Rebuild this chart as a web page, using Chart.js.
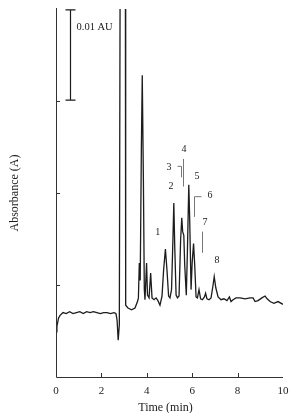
<!DOCTYPE html>
<html>
<head>
<meta charset="utf-8">
<script src="https://cdn.jsdelivr.net/npm/chart.js@4"></script>
<style>
  html,body{margin:0;padding:0;background:#fff;}
  canvas{display:block;}
</style>
</head>
<body>
<canvas id="c" width="290" height="413"></canvas>
<script>
// Chromatogram — absorbance vs time, drawn as a linear-x line chart.
const INK = "#1c1c1c", AXIS = "#333", LEAD = "#777";
const SERIF = "'Liberation Serif', 'DejaVu Serif', serif";

// time (min)
const times = [
  0, 0.04, 0.11, 0.18, 0.31, 0.45, 0.6, 0.75, 0.9, 1.05,
  1.2, 1.35, 1.5, 1.65, 1.8, 1.95, 2.1, 2.25, 2.4, 2.55,
  2.64, 2.69, 2.74, 2.79, 2.84, 3.05, 3.07, 3.17, 3.33, 3.48,
  3.59, 3.63, 3.67, 3.71, 3.76, 3.80, 3.85, 3.89, 3.92, 3.99,
  4.03, 4.10, 4.17, 4.23, 4.32, 4.41, 4.49, 4.58, 4.67, 4.74,
  4.82, 4.89, 4.96, 5.02, 5.09, 5.15, 5.19, 5.23, 5.29, 5.35,
  5.42, 5.49, 5.54, 5.58, 5.63, 5.67, 5.74, 5.79, 5.85, 5.89,
  5.95, 6.00, 6.06, 6.11, 6.17, 6.23, 6.30, 6.37, 6.45, 6.54,
  6.59, 6.65, 6.74, 6.83, 6.92, 6.97, 7.04, 7.14, 7.27, 7.40,
  7.53, 7.64, 7.71, 7.80, 7.93, 8.11, 8.33, 8.55, 8.68, 8.77,
  8.90, 9.07, 9.21, 9.30, 9.43, 9.60, 9.78, 10.0
];
// absorbance (AU)
const absorb = [
  0.0049, 0.0055, 0.0064, 0.0067, 0.0070, 0.0069, 0.0071, 0.0069, 0.0070, 0.0071,
  0.0069, 0.0071, 0.0070, 0.0071, 0.0070, 0.0069, 0.0070, 0.0070, 0.0069, 0.0070,
  0.0069, 0.0062, 0.0040, 0.0057, 0.0600, 0.0600, 0.0078, 0.0075, 0.0073, 0.0075,
  0.0082, 0.0086, 0.0124, 0.0105, 0.0247, 0.0328, 0.0214, 0.0095, 0.0084, 0.0124,
  0.0089, 0.0086, 0.0113, 0.0086, 0.0084, 0.0086, 0.0083, 0.0078, 0.0088, 0.0116,
  0.0139, 0.0116, 0.0088, 0.0086, 0.0095, 0.0149, 0.0189, 0.0143, 0.0089, 0.0086,
  0.0088, 0.0149, 0.0173, 0.0158, 0.0154, 0.0122, 0.0089, 0.0138, 0.0209, 0.0171,
  0.0095, 0.0125, 0.0145, 0.0122, 0.0087, 0.0086, 0.0095, 0.0085, 0.0084, 0.0087,
  0.0091, 0.0085, 0.0084, 0.0086, 0.0100, 0.0109, 0.0097, 0.0087, 0.0084, 0.0085,
  0.0083, 0.0087, 0.0082, 0.0084, 0.0086, 0.0086, 0.0085, 0.0086, 0.0086, 0.0082,
  0.0083, 0.0086, 0.0088, 0.0085, 0.0082, 0.0080, 0.0082, 0.0079
];
const xTicks = [0, 2, 4, 6, 8, 10];
const yTicks = [0.01, 0.02, 0.03];
const peakNames = ["1", "2", "3", "4", "5", "6", "7", "8"];

// annotation placement (data coords)
const peakAt = [[4.48,0.0157],[5.07,0.0207],[4.98,0.0228],[5.64,0.0247],[6.21,0.0218],[6.78,0.0197],[6.56,0.0168],[7.09,0.0127]];
const leaders = [
  [[5.32,0.0229],[5.51,0.0229],[5.51,0.0217]],
  [[5.61,0.0237],[5.61,0.0207]],
  [[6.37,0.0196],[6.08,0.0196],[6.08,0.0174]],
  [[6.43,0.0158],[6.43,0.0135]]
];

const deco = {
  id: "deco",
  afterDraw(chart){
    const {ctx, chartArea: a, scales:{x, y}} = chart;
    ctx.save();
    // axes
    ctx.strokeStyle = AXIS; ctx.lineWidth = 1;
    ctx.beginPath();
    ctx.moveTo(a.left + 0.5, a.top - 1); ctx.lineTo(a.left + 0.5, a.bottom + 0.5);
    ctx.lineTo(a.right, a.bottom + 0.5);
    ctx.stroke();
    // inward ticks
    ctx.beginPath();
    xTicks.slice(1, -1).forEach(v => { const px = Math.round(x.getPixelForValue(v)) + 0.5; ctx.moveTo(px, a.bottom); ctx.lineTo(px, a.bottom - 4); });
    yTicks.forEach(v => { const py = Math.round(y.getPixelForValue(v)) + 0.5; ctx.moveTo(a.left, py); ctx.lineTo(a.left + 4, py); });
    ctx.stroke();

    // scale bar
    const bx = Math.round(x.getPixelForValue(0.62)) + 0.5;
    const b0 = y.getPixelForValue(0.0301), b1 = y.getPixelForValue(0.0399);
    ctx.strokeStyle = INK; ctx.lineWidth = 1.2;
    ctx.beginPath();
    ctx.moveTo(bx, b0); ctx.lineTo(bx, b1);
    ctx.moveTo(bx - 5, b0); ctx.lineTo(bx + 5, b0);
    ctx.moveTo(bx - 5, b1); ctx.lineTo(bx + 5, b1);
    ctx.stroke();
    ctx.fillStyle = INK; ctx.font = "10.5px " + SERIF;
    ctx.textAlign = "left"; ctx.textBaseline = "middle";
    ctx.fillText("0.01 AU", bx + 6, y.getPixelForValue(0.0380));

    // leader lines
    ctx.strokeStyle = LEAD; ctx.lineWidth = 1;
    leaders.forEach(pts => {
      ctx.beginPath();
      pts.forEach(([t, v], i) => {
        const px = Math.round(x.getPixelForValue(t)) + 0.5, py = y.getPixelForValue(v);
        i ? ctx.lineTo(px, py) : ctx.moveTo(px, py);
      });
      ctx.stroke();
    });
    // peak numbers
    ctx.font = "10px " + SERIF; ctx.textAlign = "center";
    peakNames.forEach((n, i) => ctx.fillText(n, x.getPixelForValue(peakAt[i][0]), y.getPixelForValue(peakAt[i][1])));

    // axis titles
    ctx.font = "12px " + SERIF;
    ctx.fillText("Time (min)", (a.left + a.right) / 2 - 4, 408);
    ctx.translate(15, (a.top + a.bottom) / 2);
    ctx.rotate(-Math.PI / 2);
    ctx.fillText("Absorbance (A)", 0, 0);
    ctx.restore();
  }
};

new Chart(document.getElementById("c"), {
  type: "line",
  data: { datasets: [{
    data: times.map((t, i) => ({x: t, y: absorb[i]})),
    borderColor: INK, borderWidth: 1.3, pointRadius: 0, tension: 0, fill: false
  }]},
  options: {
    responsive: false, animation: false,
    layout: { padding: {top: 9, right: 7, left: 0, bottom: 0} },
    plugins: { legend: {display: false}, tooltip: {enabled: false} },
    scales: {
      x: {
        type: "linear", min: 0, max: 10,
        afterBuildTicks: s => { s.ticks = xTicks.map(v => ({value: v})); },
        ticks: { color: INK, font: {family: SERIF, size: 11}, padding: 8, maxRotation: 0 },
        grid: { display: false, drawTicks: false }, border: { display: false },
        afterFit: s => { s.height = 36; s.paddingLeft = 0; s.paddingRight = 0; }
      },
      y: {
        min: 0, max: 0.04,
        ticks: { display: false },
        grid: { display: false, drawTicks: false }, border: { display: false },
        afterFit: s => { s.width = 56; }
      }
    }
  },
  plugins: [deco]
});
</script>
</body>
</html>
